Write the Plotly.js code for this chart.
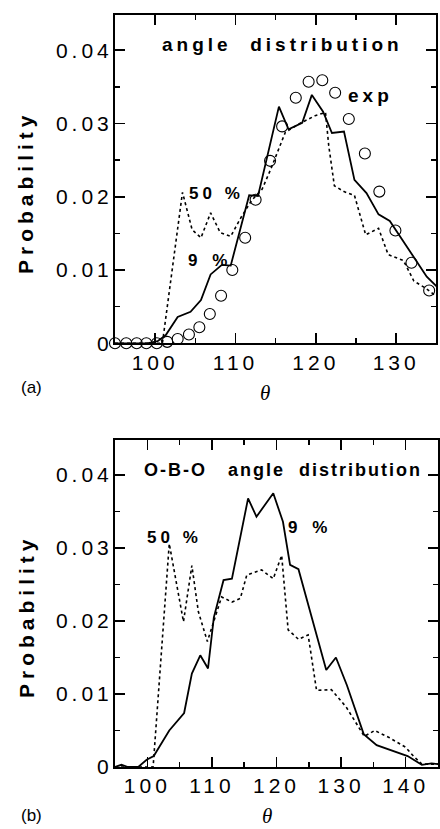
<!DOCTYPE html>
<html><head><meta charset="utf-8">
<script src="https://cdn.plot.ly/plotly-3.0.1.min.js"></script>
<style>
html,body{margin:0;padding:0;background:#fff;}
#chart{width:440px;height:829px;}
.xtick text,.ytick text,.x2tick text,.y2tick text{letter-spacing:4px;}
</style></head><body><div id="chart"></div>
<script>
// ---- panel (a): angle distribution ----
const topSimX = [95, 99.0, 100.3, 101.3, 102.8, 104.4, 105.7, 106.9, 108.3, 109.4, 111.7, 112.8, 115.4, 116.6, 118.3, 119.5, 120.9, 122.0, 123.5, 124.8, 126.3, 127.8, 129.2, 131.1, 133.8, 135.2];
const topSimY = [0, 0, 0.0003, 0.0011, 0.0036, 0.0043, 0.0059, 0.0094, 0.0107, 0.0106, 0.0202, 0.0201, 0.0323, 0.0292, 0.0301, 0.0339, 0.0316, 0.0287, 0.0289, 0.0223, 0.0205, 0.0176, 0.0167, 0.0136, 0.0091, 0.0076];
const top50X = [95, 100.9, 103.4, 104.6, 105.7, 106.9, 108.1, 109.4, 110.7, 112.0, 113.3, 114.4, 116.2, 118.0, 120.0, 121.2, 121.6, 122.3, 123.5, 124.8, 126.2, 127.8, 129.0, 130.9, 132.2, 133.7, 135.0];
const top50Y = [0, 0, 0.0206, 0.0155, 0.0144, 0.0178, 0.0151, 0.0146, 0.0172, 0.0195, 0.0210, 0.0238, 0.0288, 0.0300, 0.0311, 0.0315, 0.0270, 0.0215, 0.0207, 0.0202, 0.0148, 0.0157, 0.0121, 0.0113, 0.0085, 0.0075, 0.0064];
const expX = [95.0, 96.4, 97.7, 98.9, 100.2, 101.5, 102.8, 104.2, 105.5, 106.8, 108.2, 109.6, 111.2, 112.5, 114.3, 115.8, 117.5, 119.1, 120.8, 122.4, 124.1, 126.1, 127.9, 129.9, 131.9, 134.1];
const expY = [0, 0, 0, 0, 0, 0.0002, 0.0006, 0.0012, 0.0022, 0.0040, 0.0065, 0.0100, 0.0144, 0.0196, 0.0249, 0.0296, 0.0335, 0.0357, 0.0359, 0.0342, 0.0306, 0.0259, 0.0207, 0.0154, 0.0110, 0.0072];

// ---- panel (b): O-B-O angle distribution ----
const botSimX = [95, 96, 97, 98.6, 99.9, 101.0, 103.4, 105.7, 106.9, 108.2, 109.4, 110.3, 111.8, 113.1, 115.6, 116.9, 119.5, 121.0, 122.1, 123.4, 127.7, 129.2, 130.9, 133.5, 135.5, 140.3, 142.5, 144, 145];
const botSimY = [0, 0.0003, 0, 0, 0.0010, 0.0015, 0.0050, 0.0074, 0.0128, 0.0153, 0.0135, 0.0205, 0.0256, 0.0258, 0.0368, 0.0343, 0.0375, 0.0336, 0.0277, 0.0271, 0.0133, 0.0150, 0.0112, 0.0045, 0.0030, 0.0015, 0.0003, 0.0005, 0.0004];
const bot50X = [95, 100.9, 103.4, 105.6, 106.9, 107.9, 109.3, 110.4, 111.5, 113.1, 114.4, 115.4, 117.7, 119.5, 120.8, 121.8, 123.4, 124.9, 126.2, 128.5, 130.8, 133.6, 135.2, 137.5, 140.0, 141.2, 142.5, 145];
const bot50Y = [0, 0, 0.0306, 0.0199, 0.0276, 0.0213, 0.0172, 0.0203, 0.0233, 0.0226, 0.0231, 0.0263, 0.0270, 0.0258, 0.0290, 0.0188, 0.0175, 0.0181, 0.0105, 0.0106, 0.0082, 0.0042, 0.0050, 0.0040, 0.0027, 0.0015, 0.0004, 0.0004];

const yTickVals = [0, 0.01, 0.02, 0.03, 0.04];
const yTickText = ['0', '0.01', '0.02', '0.03', '0.04'];

const solid = {color: '#000', width: 1.8};
const dotted = {color: '#000', width: 1.6, dash: '3px,3px'};

const traces = [
  {x: top50X, y: top50Y, xaxis: 'x', yaxis: 'y', mode: 'lines', line: dotted, name: '50 %'},
  {x: topSimX, y: topSimY, xaxis: 'x', yaxis: 'y', mode: 'lines', line: solid, name: '9 %'},
  {x: expX, y: expY, xaxis: 'x', yaxis: 'y', mode: 'markers', cliponaxis: false, name: 'exp',
   marker: {symbol: 'circle-open', size: 11, color: '#000', line: {width: 1.1, color: '#000'}}},
  {x: bot50X, y: bot50Y, xaxis: 'x2', yaxis: 'y2', mode: 'lines', line: dotted, name: '50 %'},
  {x: botSimX, y: botSimY, xaxis: 'x2', yaxis: 'y2', mode: 'lines', line: solid, name: '9 %'}
];

const tickFont = {family: 'Liberation Sans, Arial, sans-serif', size: 21, color: '#000'};
function xAx(range, domain, anchor) {
  return {range: range, domain: domain, anchor: anchor, tick0: 100, dtick: 10,
    ticks: 'inside', ticklen: 10, tickwidth: 1.5, tickcolor: '#000',
    minor: {dtick: 5, tick0: 100, ticks: 'inside', ticklen: 5, tickwidth: 1.5, tickcolor: '#000'},
    showline: true, linewidth: 2, linecolor: '#000', mirror: 'ticks',
    showgrid: false, zeroline: false, tickfont: tickFont, ticklabelstandoff: -1};
}
function yAx(domain, anchor) {
  return {range: [0, 0.0448], domain: domain, anchor: anchor, tickvals: yTickVals, ticktext: yTickText,
    ticks: 'inside', ticklen: 10, tickwidth: 1.5, tickcolor: '#000',
    minor: {dtick: 0.005, tick0: 0, ticks: 'inside', ticklen: 5, tickwidth: 1.5, tickcolor: '#000'},
    showline: true, linewidth: 2, linecolor: '#000', mirror: 'ticks',
    showgrid: false, zeroline: false, tickfont: tickFont, ticklabelstandoff: -4};
}

// pixel -> paper helpers for label placement
const L = 115, R = 2, T = 15, B = 62, W = 440, H = 829;
const px = v => (v - L) / (W - L - R);
const py = v => (H - B - v) / (H - T - B);
function lab(text, x, y, font, extra) {
  return Object.assign({text: text, xref: 'paper', yref: 'paper', x: px(x), y: py(y),
    xanchor: 'center', yanchor: 'middle', showarrow: false, font: font}, extra || {});
}
const boldF = s => ({family: 'Liberation Sans, Arial, sans-serif', size: s, color: '#000', weight: 'bold'});
const sp = (t, s) => '<span style="letter-spacing:' + s + 'px">' + t + '</span>';
const thetaF = {family: 'Liberation Serif, Times New Roman, serif', size: 21, color: '#000', style: 'italic'};
const plainF = {family: 'Liberation Sans, Arial, sans-serif', size: 17, color: '#000'};

const annotations = [
  lab(sp('angle\u00a0\u00a0distribution', 4), 282, 45, boldF(19)),
  lab(sp('exp', 4), 370, 95, boldF(19)),
  lab(sp('50\u00a0%', 4), 216, 194, boldF(17)),
  lab(sp('9\u00a0%', 5), 210, 260, boldF(17)),
  lab(sp('O-B-O\u00a0\u00a0\u00a0angle\u00a0\u00a0distribution', 2), 283, 470, boldF(18)),
  lab(sp('50\u00a0%', 4), 174, 537, boldF(17)),
  lab(sp('9\u00a0%', 5), 310, 527, boldF(17)),
  lab(sp('Probability', 5), 25, 192, boldF(21), {textangle: -90}),
  lab(sp('Probability', 5), 26, 616, boldF(21), {textangle: -90}),
  lab('\u03b8', 265, 393, thetaF),
  lab('\u03b8', 267, 816, thetaF),
  lab('(a)', 32, 388, plainF),
  lab('(b)', 32, 815, plainF)
];

const layout = {
  width: W, height: H, margin: {l: L, r: R, t: T, b: B},
  paper_bgcolor: '#fff', plot_bgcolor: '#fff', showlegend: false,
  xaxis: xAx([95, 135], [0, 0.995], 'y'),
  yaxis: yAx([0.5634, 1], 'x'),
  xaxis2: xAx([95, 145], [0, 1], 'y2'),
  yaxis2: yAx([0, 0.4348], 'x2'),
  annotations: annotations
};

Plotly.newPlot('chart', traces, layout, {staticPlot: true, displayModeBar: false});
</script></body></html>
